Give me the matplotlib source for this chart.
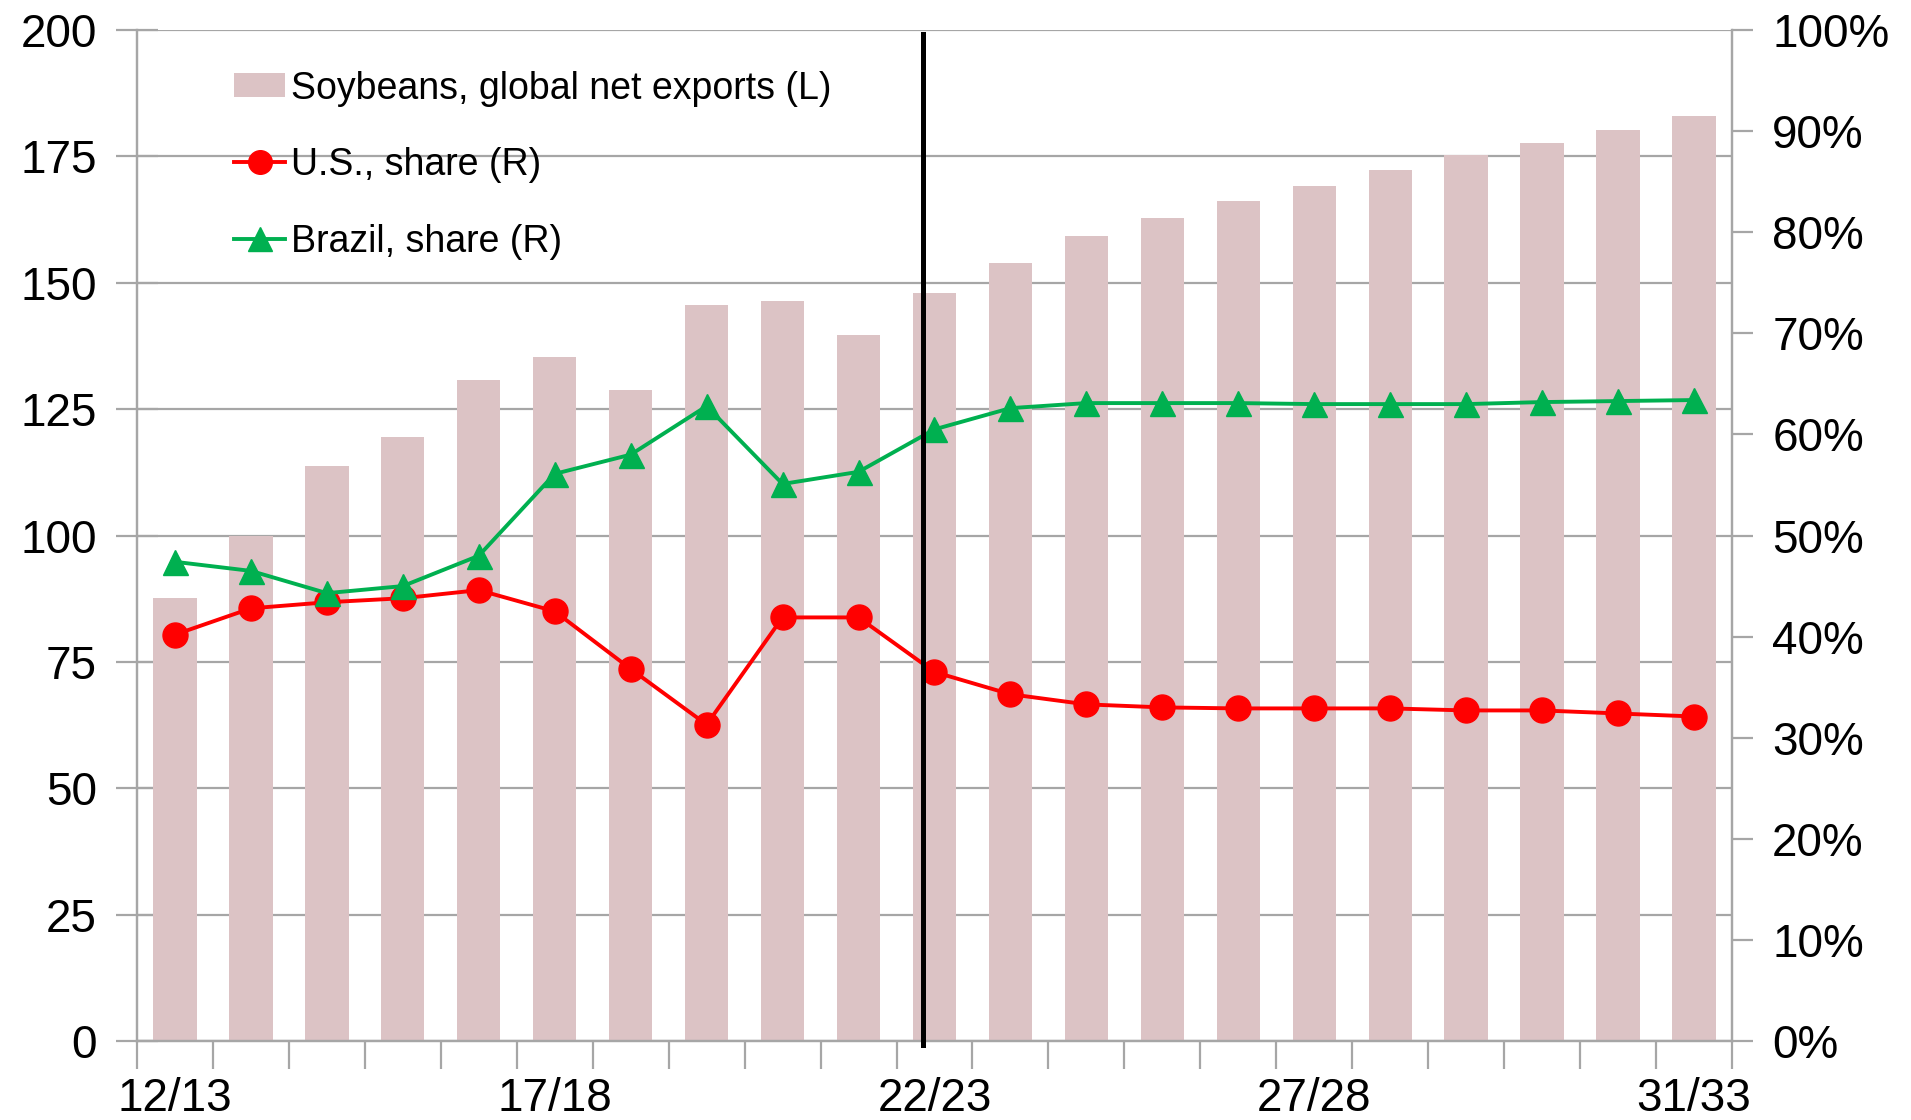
import numpy as np
import matplotlib
matplotlib.use("Agg")
import matplotlib.pyplot as plt
from matplotlib.patches import Patch
from matplotlib.lines import Line2D
from matplotlib.ticker import MultipleLocator, FixedLocator, PercentFormatter

plt.rcParams['font.family'] = ['Liberation Sans', 'DejaVu Sans']

years = ["12/13", "13/14", "14/15", "15/16", "16/17", "17/18", "18/19", "19/20",
         "20/21", "21/22", "22/23", "23/24", "24/25", "25/26", "26/27", "27/28",
         "28/29", "29/30", "30/31", "31/32", "32/33"]
tick_labels = ["12/13", "17/18", "22/23", "27/28", "31/33"]
exports = [87.6, 100.0, 113.8, 119.4, 130.7, 135.3, 128.8, 145.6, 146.3, 139.6, 148.0,
           154.0, 159.3, 162.9, 166.1, 169.2, 172.3, 175.2, 177.6, 180.3, 182.9]
us_share = [40.2, 42.8, 43.4, 43.8, 44.6, 42.5, 36.8, 31.3, 41.9, 41.9, 36.5,
            34.3, 33.3, 33.0, 32.9, 32.9, 32.9, 32.7, 32.7, 32.4, 32.1]
brazil_share = [47.4, 46.5, 44.3, 45.0, 48.0, 56.1, 58.0, 62.8, 55.1, 56.3, 60.5,
                62.6, 63.1, 63.1, 63.1, 63.0, 63.0, 63.0, 63.2, 63.3, 63.4]
proj_line = 9.85

grey = '#a6a6a6'
bar_col = '#dcc3c5'
x = np.arange(len(years))

fig = plt.figure(figsize=(19.11, 11.2), dpi=100)
ax = fig.add_axes([0.0717, 0.0705, 0.8346, 0.9027])
ax2 = ax.twinx()

ax.bar(x, exports, width=0.57, color=bar_col, zorder=2)
ax.set_ylim(0, 200)
ax.set_xlim(-0.5, len(years) - 0.5)
ax.yaxis.set_major_locator(MultipleLocator(25))
ax.grid(axis='y', color=grey, lw=1.6, zorder=0)
ax.set_axisbelow(True)

ax2.plot(x, us_share, color='#ff0000', lw=2.8, marker='o', ms=18, zorder=3)
ax2.plot(x, brazil_share, color='#00b050', lw=2.8, marker='^', ms=18, zorder=3)
ax2.axvline(proj_line, ymin=-0.004, ymax=0.996, color='black', lw=3.6, clip_on=False, zorder=4)
ax2.set_ylim(0, 100)
ax2.yaxis.set_major_locator(MultipleLocator(10))
ax2.yaxis.set_major_formatter(PercentFormatter(decimals=0))

for a in (ax, ax2):
    a.spines['top'].set_visible(False)
    for s in ('left', 'right', 'bottom'):
        a.spines[s].set_color(grey)
        a.spines[s].set_linewidth(1.6)

ax.tick_params(axis='y', direction='inout', length=30, width=1.6, color=grey,
               labelsize=33, pad=14)
ax2.tick_params(axis='y', direction='out', length=15, width=1.6, color=grey,
                labelsize=33, pad=14)

# category boundaries as tick marks, labels every 5 years
ax.xaxis.set_major_locator(FixedLocator(x[::5]))
ax.set_xticklabels(tick_labels)
ax.xaxis.set_minor_locator(FixedLocator(np.arange(-0.5, len(years), 1.0)))
ax.tick_params(axis='x', which='major', length=0, labelsize=33, pad=26)
ax.tick_params(axis='x', which='minor', direction='out', length=20, width=1.6, color=grey)

handles = [Patch(facecolor=bar_col, edgecolor='none'),
           Line2D([], [], color='#ff0000', lw=2.8, marker='o', ms=17),
           Line2D([], [], color='#00b050', lw=2.8, marker='^', ms=17)]
labels = ["Soybeans, global net exports (L)", "U.S., share (R)", "Brazil, share (R)"]
leg = ax2.legend(handles, labels, loc='upper left', bbox_to_anchor=(0.1224, 0.937),
                 bbox_transform=fig.transFigure, frameon=False, fontsize=27,
                 handlelength=1.37, handleheight=0.6, handletextpad=0.15,
                 labelspacing=1.08, borderpad=0, borderaxespad=0)

fig.savefig("out.png", dpi=100)
